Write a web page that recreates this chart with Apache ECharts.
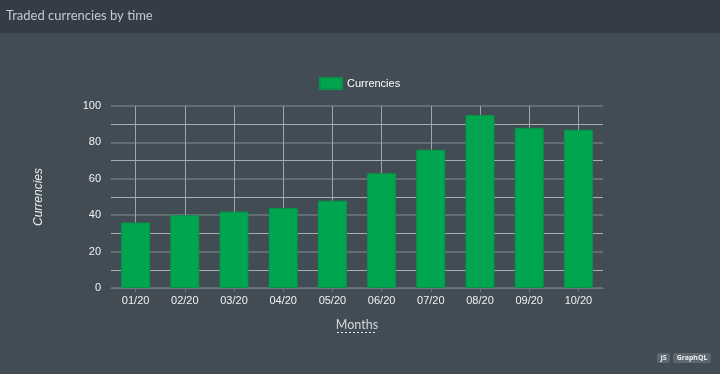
<!DOCTYPE html>
<html>
<head>
<meta charset="utf-8">
<script src="https://cdn.jsdelivr.net/npm/echarts@6/dist/echarts.min.js"></script>
<style>
html,body{margin:0;padding:0;background:#414c54;}
#chart{width:720px;height:374px;}
</style>
</head>
<body>
<div id="chart"></div>
<script>
const months = ['01/20','02/20','03/20','04/20','05/20','06/20','07/20','08/20','09/20','10/20'];
const currencies = [36, 40, 42, 44, 48, 63, 76, 95, 88, 87];
const seriesName = 'Currencies';
const chartTitle = 'Traded currencies by time';
const xTitle = 'Months';
const yTitle = 'Currencies';
const badges = ['JS', 'GraphQL'];

const chart = echarts.init(document.getElementById('chart'), null, {renderer: 'canvas'});
const font = 'Lato, "Noto Sans", sans-serif';
const labelFont = '"Liberation Sans", Arial, sans-serif';

chart.setOption({
  backgroundColor: '#414c54',
  animation: false,
  title: {
    text: chartTitle, left: 6, top: 9, padding: 0,
    textStyle: {color: '#c3cad1', fontSize: 13, fontWeight: 'normal', fontFamily: font}
  },
  graphic: [
    {type: 'rect', left: 0, top: 0, z: -10, shape: {width: 720, height: 33}, style: {fill: '#343d46'}},
    {type: 'line', z: 10, shape: {x1: 337, y1: 332.5, x2: 376, y2: 332.5},
     style: {stroke: '#e8e8e8', lineWidth: 1, lineDash: [2, 2]}},
    {type: 'group', right: 9, bottom: 11, children: [
      {type: 'rect', shape: {x: 0, y: 0, width: 13, height: 10, r: 2}, style: {fill: '#5d676f'}},
      {type: 'text', style: {x: 6.5, y: 5, text: badges[0], align: 'center', verticalAlign: 'middle', fill: '#e8ecef', font: 'bold 7px "Noto Sans", sans-serif'}},
      {type: 'rect', shape: {x: 16, y: 0, width: 38, height: 10, r: 2}, style: {fill: '#5d676f'}},
      {type: 'text', style: {x: 35, y: 5, text: badges[1], align: 'center', verticalAlign: 'middle', fill: '#e8ecef', font: 'bold 7px "Noto Sans", sans-serif'}}
    ]}
  ],
  legend: {
    data: [seriesName], left: 319, top: 77, padding: 0, icon: 'rect',
    itemWidth: 22, itemHeight: 11, itemGap: 4,
    textStyle: {color: '#ffffff', fontSize: 11, fontFamily: labelFont}
  },
  grid: {left: 111, right: 117, top: 106, bottom: 86},
  xAxis: {
    type: 'category', data: months, boundaryGap: true,
    name: xTitle, nameLocation: 'middle', nameGap: 30,
    nameTextStyle: {color: '#d4d8db', fontSize: 12.5, fontFamily: font},
    axisLine: {show: true, lineStyle: {color: '#6e787f', width: 1}},
    axisTick: {show: true, alignWithLabel: true, length: 4, lineStyle: {color: '#6e787f'}},
    axisLabel: {color: '#f2f2f2', fontSize: 11, margin: 7, fontFamily: labelFont},
    splitLine: {show: true, alignWithLabel: true, lineStyle: {color: '#9ea4a9', width: 1}}
  },
  yAxis: {
    type: 'value', min: 0, max: 100, interval: 20,
    name: yTitle, nameLocation: 'middle', nameGap: 66, nameRotate: 90,
    nameTextStyle: {color: '#eceeef', fontSize: 12, fontStyle: 'italic', fontFamily: labelFont},
    axisLine: {show: false}, axisTick: {show: false},
    axisLabel: {color: '#f2f2f2', fontSize: 11, margin: 10, fontFamily: labelFont},
    splitLine: {show: true, lineStyle: {color: '#6e787f', width: 1.5}},
    minorTick: {show: false, splitNumber: 2},
    minorSplitLine: {show: true, lineStyle: {color: '#a7adb1', width: 1}}
  },
  series: [{
    name: seriesName, type: 'bar', data: currencies, barWidth: '59%',
    itemStyle: {color: '#00a54f', borderColor: '#07944a', borderWidth: 1}
  }]
});
</script>
</body>
</html>
